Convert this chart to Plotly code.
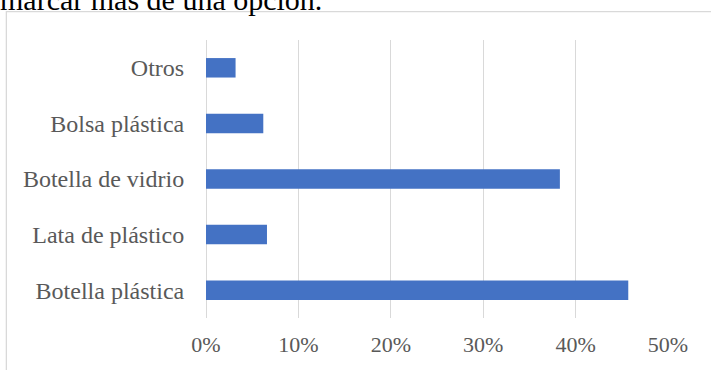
import plotly.graph_objects as go

categories = ["Botella plástica", "Lata de plástico", "Botella de vidrio", "Bolsa plástica", "Otros"]
values = [0.457, 0.066, 0.383, 0.062, 0.032]
tick_vals = [0, 0.1, 0.2, 0.3, 0.4, 0.5]
tick_text = ["0%", "10%", "20%", "30%", "40%", "50%"]
header_text = "marcar más de una opción."

W, H = 711, 370
L, R, T, B = 206, 43.3, 40, 51.5
pw = W - L - R
ph = H - T - B

def px_x(x):
    return (x - L) / pw

def px_y(y):
    return (H - B - y) / ph

fig = go.Figure(go.Bar(
    x=values, y=categories, orientation="h",
    marker=dict(color="#4472C4", line=dict(width=0)),
    hoverinfo="skip",
))

serif = "Liberation Serif, Times New Roman, serif"

fig.update_layout(
    width=W, height=H,
    margin=dict(l=L, r=R, t=T, b=B, autoexpand=False),
    paper_bgcolor="white", plot_bgcolor="white",
    bargap=0.65,
    showlegend=False,
    font=dict(family=serif, size=24, color="#595959"),
    xaxis=dict(
        range=[0, 0.5], tickvals=tick_vals, ticktext=tick_text,
        showgrid=True, gridcolor="#d9d9d9", gridwidth=1.3,
        zeroline=True, zerolinecolor="#d9d9d9", zerolinewidth=1.3,
        showline=False, ticks="outside", ticklen=7, tickcolor="rgba(0,0,0,0)",
        tickfont=dict(family=serif, size=22, color="#595959"),
        fixedrange=True,
    ),
    yaxis=dict(
        showgrid=False, zeroline=False, showline=False,
        ticks="outside", ticklen=16, tickcolor="rgba(0,0,0,0)",
        tickfont=dict(family=serif, size=24, color="#595959"),
        fixedrange=True,
    ),
    shapes=[dict(
        type="rect", xref="paper", yref="paper",
        x0=px_x(6.5), x1=px_x(W + 20), y0=px_y(H + 20), y1=px_y(11.5),
        line=dict(color="#d9d9d9", width=1.3), fillcolor="rgba(0,0,0,0)", layer="below",
    )],
    annotations=[dict(
        text=header_text, xref="paper", yref="paper",
        x=px_x(-2), y=px_y(18), xanchor="left", yanchor="bottom",
        showarrow=False, font=dict(family=serif, size=30, color="black"),
    )],
)

fig.write_html("out.html", config={"displayModeBar": False},
               post_script="document.body.style.margin='0';")
